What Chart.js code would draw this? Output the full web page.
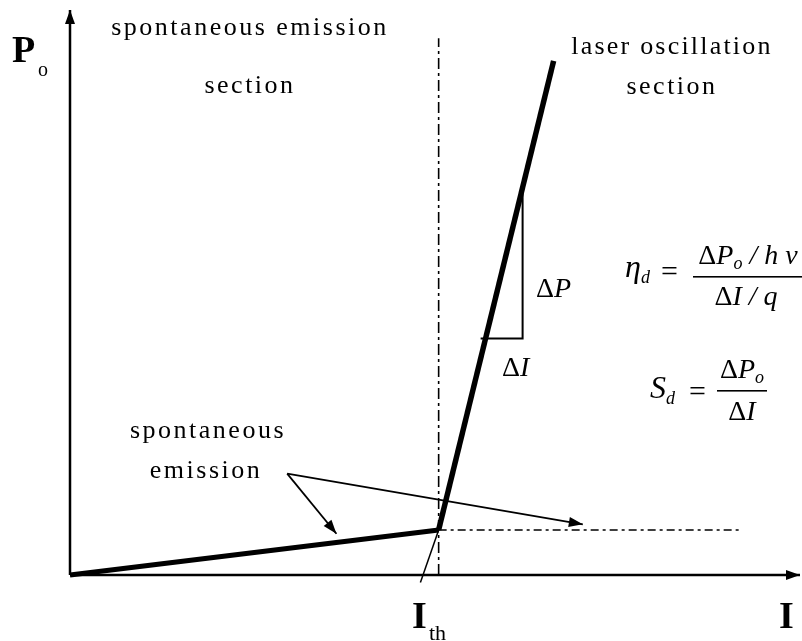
<!DOCTYPE html>
<html>
<head>
<meta charset="utf-8">
<script src="https://cdn.jsdelivr.net/npm/chart.js@4.4.1/dist/chart.umd.min.js"></script>
<style>
  html, body { margin: 0; padding: 0; background: #fff; }
  canvas { display: block; }
</style>
</head>
<body>
<canvas id="liChart" width="802" height="641"></canvas>
<script>
// L-I curve of a laser diode (arbitrary units: I in mA, Po in mW)
const I_th = 20.2;
const P_th = 1.2;

const spontCurve = [[0, 0], [I_th, P_th]];
const laserCurve = [[I_th, P_th], [26.5, 13.7]];
const extrapLine = [[I_th, P_th], [19.2, -0.2]];
const thresholdLine = [[I_th, 0], [I_th, 14.3]];
const kneeLevel = [[I_th, P_th], [36.8, P_th]];
const slopeTriangle = [[22.5, 6.3], [24.8, 6.3], [24.8, 10.3]];
const arrowLeft = [[11.9, 2.7], [14.6, 1.1]];
const arrowRight = [[11.9, 2.7], [28.1, 1.35]];
const xAxis = [[0, 0], [40, 0]];
const yAxis = [[0, 0], [0, 15.05]];

function pts(arr) {
  return arr.map(function(p) { return {x: p[0], y: p[1]}; });
}

function line(arr, width, extra) {
  var ds = {
    data: pts(arr),
    showLine: true,
    borderColor: '#000',
    backgroundColor: '#000',
    borderWidth: width,
    pointRadius: 0,
    fill: false,
    tension: 0,
    clip: false
  };
  return Object.assign(ds, extra || {});
}

const SERIF = '"Liberation Serif", "Times New Roman", serif';

function txt(ctx, s, x, y, font, align, spacing) {
  ctx.font = font;
  ctx.letterSpacing = (spacing || 0) + 'px';
  ctx.textAlign = align || 'left';
  ctx.textBaseline = 'alphabetic';
  ctx.fillText(s, x, y);
  var w = ctx.measureText(s).width;
  ctx.letterSpacing = '0px';
  return w;
}

// draw a run of pieces [text, font, dy] starting at x
function runs(ctx, x, y, parts) {
  parts.forEach(function(p) {
    ctx.font = p[1];
    ctx.textAlign = 'left';
    ctx.fillText(p[0], x, y + (p[2] || 0));
    x += ctx.measureText(p[0]).width;
  });
  return x;
}

function runsWidth(ctx, parts) {
  var w = 0;
  parts.forEach(function(p) { ctx.font = p[1]; w += ctx.measureText(p[0]).width; });
  return w;
}

const arrowHeads = {
  id: 'arrowHeads',
  afterDatasetsDraw(chart) {
    var ctx = chart.ctx;
    chart.data.datasets.forEach(function(ds, i) {
      if (!ds.arrow) return;
      var pts = chart.getDatasetMeta(i).data;
      var a = pts[pts.length - 2], b = pts[pts.length - 1];
      var ang = Math.atan2(b.y - a.y, b.x - a.x);
      var len = ds.arrow[0], hw = ds.arrow[1];
      ctx.save();
      ctx.translate(b.x, b.y);
      ctx.rotate(ang);
      ctx.beginPath();
      ctx.moveTo(0, 0);
      ctx.lineTo(-len, -hw);
      ctx.lineTo(-len, hw);
      ctx.closePath();
      ctx.fillStyle = '#000';
      ctx.fill();
      ctx.restore();
    });
  }
};

const labels = {
  id: 'labels',
  afterDraw(chart) {
    var ctx = chart.ctx;
    ctx.save();
    ctx.fillStyle = '#000';
    var f26 = '26px ' + SERIF;
    txt(ctx, 'spontaneous emission', 250, 35, f26, 'center', 2.5);
    txt(ctx, 'section', 250, 93, f26, 'center', 2.5);
    txt(ctx, 'laser oscillation', 672, 54, f26, 'center', 2.2);
    txt(ctx, 'section', 672, 94, f26, 'center', 2.5);
    txt(ctx, 'spontaneous', 208, 438, f26, 'center', 2.5);
    txt(ctx, 'emission', 206, 478, f26, 'center', 2.5);

    // axis labels
    var big = 'bold 38px ' + SERIF;
    txt(ctx, 'P', 12, 62, big);
    txt(ctx, 'o', 38, 76, '20px ' + SERIF);
    txt(ctx, 'I', 412, 628, big);
    txt(ctx, 'th', 429, 640, '22px ' + SERIF);
    txt(ctx, 'I', 779, 628, big);

    // slope triangle labels
    var it = 'italic 28px ' + SERIF;
    var up = '28px ' + SERIF;
    runs(ctx, 536, 297, [['\u0394', up], ['P', it]]);
    runs(ctx, 502, 376, [['\u0394', up], ['I', it]]);

    // eta_d formula
    var sub = 'italic 18px ' + SERIF;
    runs(ctx, 625, 277, [['\u03b7', 'italic 32px ' + SERIF], ['d', sub, 6]]);
    txt(ctx, '=', 661, 281, '30px ' + SERIF);
    var num = [['\u0394', up], ['P', it], ['o', sub, 5], [' / h ', it], ['\u03bd', it]];
    var den = [['\u0394', up], ['I / q', it]];
    runs(ctx, 748 - runsWidth(ctx, num) / 2, 264, num);
    runs(ctx, 746 - runsWidth(ctx, den) / 2, 305, den);
    ctx.fillRect(693, 276, 109, 1.6);

    // S_d formula
    runs(ctx, 650, 398, [['S', 'italic 32px ' + SERIF], ['d', sub, 6]]);
    txt(ctx, '=', 689, 401, '30px ' + SERIF);
    var num2 = [['\u0394', up], ['P', it], ['o', sub, 5]];
    runs(ctx, 742 - runsWidth(ctx, num2) / 2, 378, num2);
    var den2 = [['\u0394', up], ['I', it]];
    runs(ctx, 742 - runsWidth(ctx, den2) / 2, 420, den2);
    ctx.fillRect(717, 390, 50, 1.6);
    ctx.restore();
  }
};

const dashDot = [11, 4, 3, 4];

new Chart(document.getElementById('liChart'), {
  type: 'scatter',
  data: {
    datasets: [
      line(xAxis, 2.5, {arrow: [14, 5]}),
      line(yAxis, 2.5, {arrow: [14, 5]}),
      line(thresholdLine, 1.6, {borderDash: dashDot}),
      line(kneeLevel, 1.6, {borderDash: [8, 4, 3, 4]}),
      line(extrapLine, 1.5),
      line(slopeTriangle, 2),
      line(arrowLeft, 1.8, {arrow: [14, 5]}),
      line(arrowRight, 1.8, {arrow: [14, 5]}),
      line(spontCurve, 5),
      line(laserCurve, 5.5)
    ]
  },
  options: {
    responsive: false,
    animation: false,
    events: [],
    layout: { padding: { left: 70, right: 2, top: 12, bottom: 66 } },
    plugins: { legend: { display: false }, tooltip: { enabled: false } },
    scales: {
      x: { type: 'linear', min: 0, max: 40, display: false },
      y: { type: 'linear', min: 0, max: 15, display: false }
    }
  },
  plugins: [arrowHeads, labels]
});
</script>
</body>
</html>
